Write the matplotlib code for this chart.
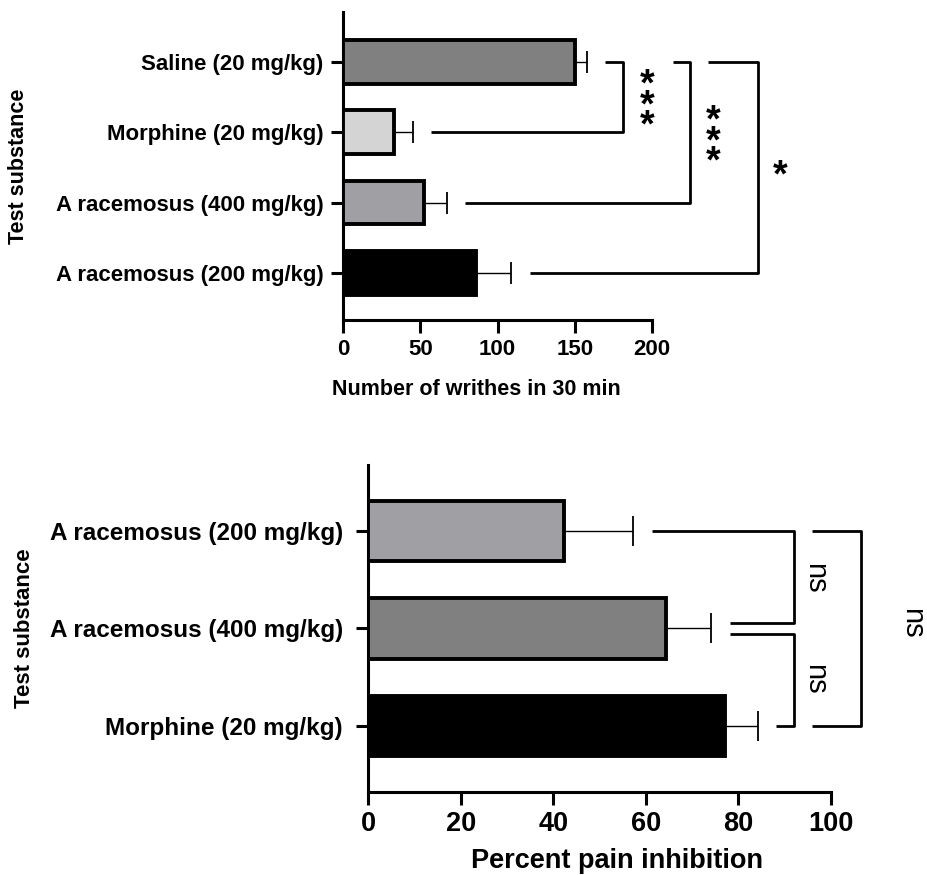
import matplotlib.pyplot as plt
import numpy as np

plt.rcParams["font.family"] = ["Liberation Sans", "DejaVu Sans"]
plt.rcParams["font.weight"] = "bold"
plt.rcParams["axes.labelweight"] = "bold"

# top panel: writhing test
top_labels = ["Saline (20 mg/kg)", "Morphine (20 mg/kg)",
              "A racemosus (400 mg/kg)", "A racemosus (200 mg/kg)"]
top_means = [150, 33, 52.5, 86]
top_errs = [8, 12, 14.5, 23]
top_colors = ["#808080", "#d4d4d4", "#a0a0a4", "#000000"]
top_ticks = [0, 50, 100, 150, 200]

# bottom panel: percent inhibition
bot_labels = ["A racemosus (200 mg/kg)", "A racemosus (400 mg/kg)",
              "Morphine (20 mg/kg)"]
bot_means = [42.3, 64.4, 77]
bot_errs = [15, 9.6, 7.2]
bot_colors = ["#a0a0a4", "#808080", "#000000"]
bot_ticks = [0, 20, 40, 60, 80, 100]


def style_axes(ax):
    for s in ["top", "right"]:
        ax.spines[s].set_visible(False)
    for s in ["left", "bottom"]:
        ax.spines[s].set_linewidth(2.2)
    ax.tick_params(width=2.2, length=9, direction="out", pad=5)


def draw_bars(ax, means, errs, colors, cap):
    y = np.arange(len(means))
    ax.barh(y, means, height=0.62, color=colors, edgecolor="black",
            linewidth=2.8, zorder=3)
    ax.errorbar(means, y, xerr=[np.zeros(len(errs)), errs], fmt="none",
                ecolor="black", elinewidth=1.0, capsize=cap, capthick=1.3,
                zorder=2)
    return y


def bracket(ax, x_top, y_top, x_bot, y_bot, x_v, lw=2.0):
    ax.plot([x_top, x_v, x_v, x_bot], [y_top, y_top, y_bot, y_bot],
            color="black", lw=lw, clip_on=False, solid_capstyle="butt")


def stars(ax, x, y_mid, n, size=27):
    # upright asterisks stacked vertically as one text block
    ax.text(x, y_mid, "\n".join(["*"] * n), ha="center", va="center",
            fontsize=size, linespacing=0.45, clip_on=False)


fig = plt.figure(figsize=(9.28, 8.75), dpi=100)

# ---- top ----
ax1 = fig.add_axes([0.3696, 0.6343, 0.333, 0.352])
y1 = draw_bars(ax1, top_means, top_errs, top_colors, cap=8)
ax1.set_xlim(0, 200)
ax1.set_ylim(3.67, -0.71)
ax1.set_xticks(top_ticks)
ax1.set_yticks(y1)
ax1.set_yticklabels(top_labels)
ax1.tick_params(labelsize=16)
style_axes(ax1)
ax1.set_xlabel("Number of writhes in 30 min", fontsize=15.5)
ax1.set_ylabel("Test substance", fontsize=15.5)
ax1.xaxis.set_label_coords(0.432, -0.19)
ax1.yaxis.set_label_coords(-1.016, 0.5)

gap = 12
bracket(ax1, 169.6, 0, top_means[1] + top_errs[1] + gap, 1, 181)
bracket(ax1, 213.6, 0, top_means[2] + top_errs[2] + gap, 2, 224.6)
bracket(ax1, 236, 0, top_means[3] + top_errs[3] + gap, 3, 268.6)
stars(ax1, 196.8, 0.63, 3)
stars(ax1, 239.5, 1.14, 3)
stars(ax1, 282.9, 1.63, 1)

# ---- bottom ----
ax2 = fig.add_axes([0.3966, 0.0949, 0.4989, 0.3737])
y2 = draw_bars(ax2, bot_means, bot_errs, bot_colors, cap=11)
ax2.set_xlim(0, 100)
ax2.set_ylim(2.68, -0.68)
ax2.set_xticks(bot_ticks)
ax2.set_yticks(y2)
ax2.set_yticklabels(bot_labels)
ax2.tick_params(axis="y", labelsize=17.5)
ax2.tick_params(axis="x", labelsize=19.5)
style_axes(ax2)
ax2.tick_params(axis="y", pad=9)
ax2.set_xlabel("Percent pain inhibition", fontsize=19.5)
ax2.set_ylabel("Test substance", fontsize=16)
ax2.xaxis.set_label_coords(0.537, -0.17)
ax2.yaxis.set_label_coords(-0.72, 0.5)

off = 0.06
bracket(ax2, bot_means[0] + bot_errs[0] + 4, 0, 78.2, 1 - off, 92)
bracket(ax2, 78.2, 1 + off, bot_means[2] + bot_errs[2] + 4, 2, 92)
bracket(ax2, 95.9, 0, 95.9, 2, 106.5)
for xt, yt in [(96.5, 0.48), (96.5, 1.52), (117.5, 0.95)]:
    ax2.text(xt, yt, "ns", rotation=270, fontsize=21, fontweight="normal",
             ha="center", va="center", clip_on=False)

fig.savefig("out.png", dpi=100)
